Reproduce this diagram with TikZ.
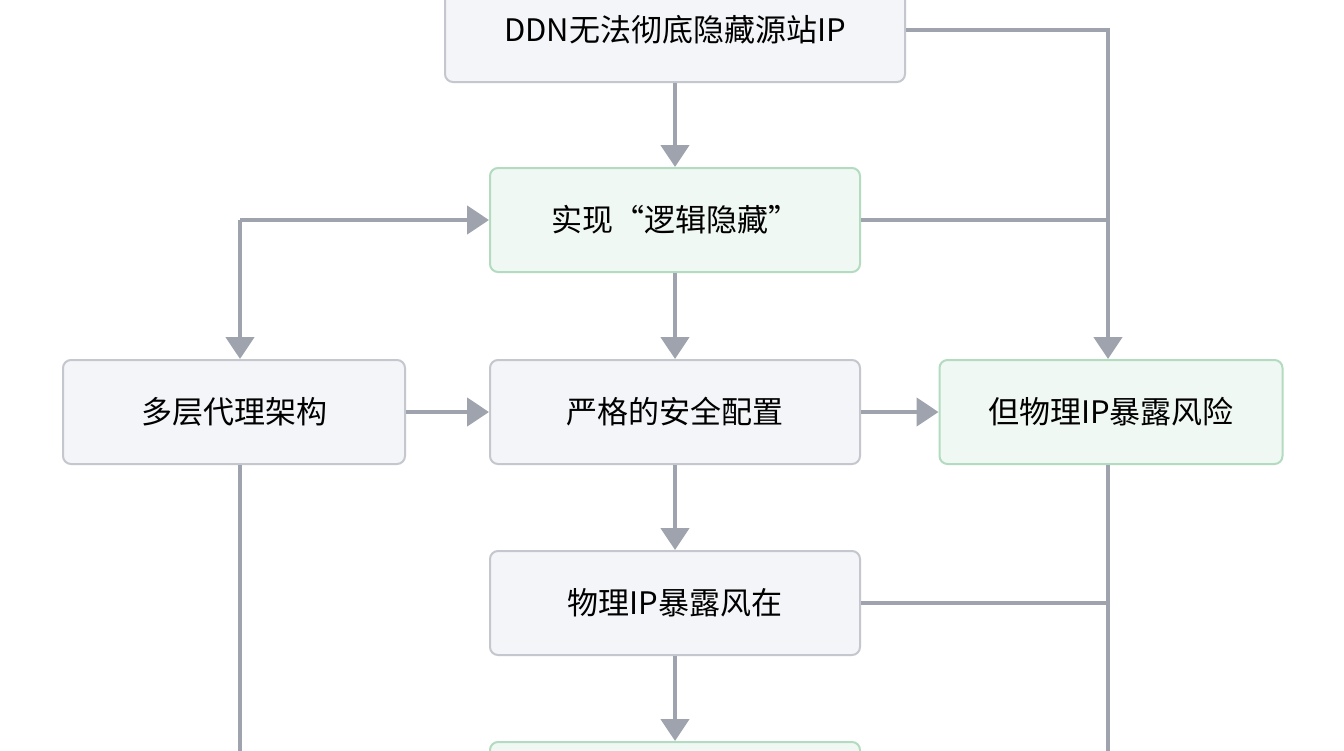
\documentclass[tikz,border=0pt]{standalone}
\usepackage{fontspec}
\setmainfont{Noto Sans CJK SC}
\usetikzlibrary{arrows.meta}
\definecolor{ln}{HTML}{9EA3AD}
\definecolor{gfill}{HTML}{F4F5F8}
\definecolor{gbord}{HTML}{C4C7CE}
\definecolor{nfill}{HTML}{F0F8F3}
\definecolor{nbord}{HTML}{B3DBBF}
\begin{document}
\begin{tikzpicture}[x=1pt,y=-1pt,
  box/.style={draw=gbord,fill=gfill,line width=2pt,rounded corners=8pt,minimum height=104pt,inner sep=0pt,font=\fontsize{31}{36}\selectfont},
  gbox/.style={box,draw=nbord,fill=nfill},
  con/.style={draw=ln,line width=4.5pt},
  arr/.style={con,-{Triangle[length=22pt,width=28pt]}}]
\useasboundingbox (0,0) rectangle (1344,750);
\fill[white] (0,0) rectangle (1344,750);
\node[box,minimum width=460pt] (a) at (675,30) {DDN无法彻底隐藏源站IP};
\node[gbox,minimum width=370pt] (b) at (675,220) {实现“逻辑隐藏”};
\node[box,minimum width=342pt] (l) at (234,412) {多层代理架构};
\node[box,minimum width=370pt] (m) at (675,412) {严格的安全配置};
\node[gbox,minimum width=343pt] (r) at (1111,412) {但物理IP暴露风险};
\node[box,minimum width=370pt] (p) at (675,603) {物理IP暴露风在};
\node[gbox,minimum width=370pt] (q) at (675,794) {};
\coordinate (j1) at (1108,30);
\coordinate (j2) at (1108,220);
\coordinate (j3) at (240,220);
\coordinate (j4) at (1108,603);
\coordinate (lb) at (240,760);
\coordinate (rb) at (1108,760);
\draw[arr] (a) -- (b);
\draw[con] (a.east|-j1) -- (j1) -- (j2);
\draw[arr] (j2) -- (r.north-|j2);
\draw[con] (b.east) -- (j2);
\draw[arr] (j3) -- (b.west);
\draw[arr] (j3) -- (l.north-|j3);
\draw[arr] (b) -- (m);
\draw[arr] (l) -- (m);
\draw[arr] (m) -- (r);
\draw[arr] (m) -- (p);
\draw[arr] (p) -- (q);
\draw[con] (l.south-|lb) -- (lb);
\draw[con] (r.south-|rb) -- (rb);
\draw[con] (p.east) -- (j4);
\end{tikzpicture}
\end{document}
